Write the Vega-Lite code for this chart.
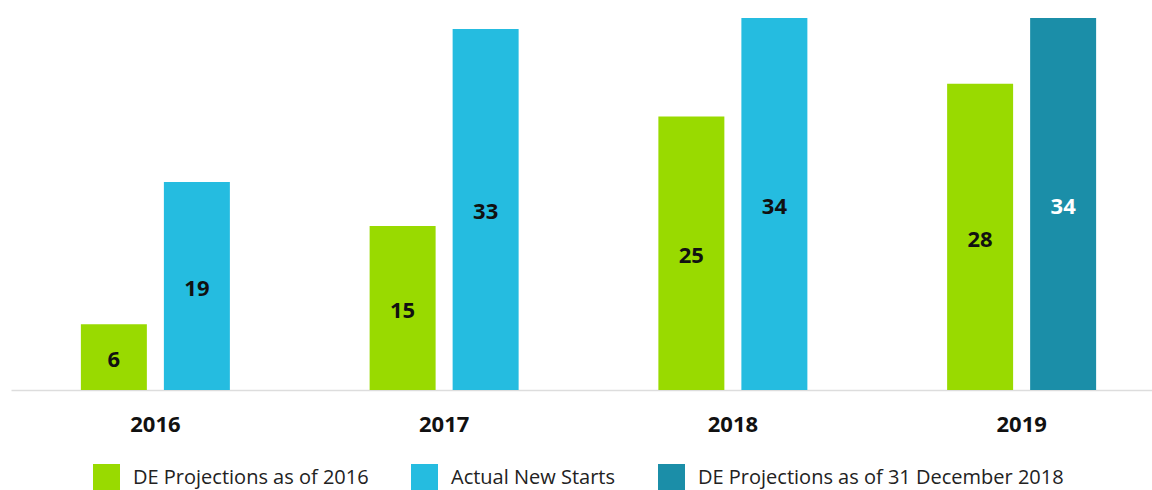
{
  "$schema": "https://vega.github.io/schema/vega-lite/v6.json",
  "width": 1141,
  "height": 372,
  "autosize": {"type": "none"},
  "padding": {"left": 11, "top": 18, "right": 0, "bottom": 100},
  "background": "white",
  "config": {
    "view": {"stroke": null},
    "font": "Open Sans"
  },
  "data": {
    "values": [
      {"year": "2016", "basis": "Original", "series": "DE Projections as of 2016", "value": 6},
      {"year": "2016", "basis": "Updated", "series": "Actual New Starts", "value": 19},
      {"year": "2017", "basis": "Original", "series": "DE Projections as of 2016", "value": 15},
      {"year": "2017", "basis": "Updated", "series": "Actual New Starts", "value": 33},
      {"year": "2018", "basis": "Original", "series": "DE Projections as of 2016", "value": 25},
      {"year": "2018", "basis": "Updated", "series": "Actual New Starts", "value": 34},
      {"year": "2019", "basis": "Original", "series": "DE Projections as of 2016", "value": 28},
      {"year": "2019", "basis": "Updated", "series": "DE Projections as of 31 December 2018", "value": 34}
    ]
  },
  "encoding": {
    "x": {
      "field": "year",
      "type": "nominal",
      "scale": {"range": [0, 1155], "paddingInner": 0.484, "paddingOuter": 0.242},
      "axis": {
        "title": null,
        "labelAngle": 0,
        "labelFont": "Open Sans",
        "labelFontSize": 22,
        "labelFontWeight": "bold",
        "labelColor": "#111111",
        "labelPadding": 24,
        "ticks": false,
        "domainColor": "#dddddd",
        "domainWidth": 1.5
      }
    },
    "xOffset": {
      "field": "basis",
      "type": "nominal",
      "scale": {"paddingInner": 0.205, "paddingOuter": 0}
    }
  },
  "layer": [
    {
      "mark": {"type": "bar"},
      "encoding": {
        "y": {
          "field": "value",
          "type": "quantitative",
          "scale": {"domain": [0, 34], "nice": false},
          "axis": null
        },
        "color": {
          "field": "series",
          "type": "nominal",
          "scale": {
            "domain": ["DE Projections as of 2016", "Actual New Starts", "DE Projections as of 31 December 2018"],
            "range": ["#99da00", "#25bce0", "#1b8ea8"]
          },
          "legend": {
            "title": null,
            "orient": "none",
            "legendX": 82,
            "legendY": 446,
            "direction": "horizontal",
            "symbolType": "square",
            "symbolSize": 729,
            "symbolStrokeWidth": 0,
            "symbolOpacity": 1,
            "labelFont": "Open Sans",
            "labelFontSize": 20,
            "labelColor": "#222222",
            "labelOffset": 13,
            "columnPadding": 42,
            "labelLimit": 500,
            "padding": 0
          }
        }
      }
    },
    {
      "transform": [{"calculate": "datum.value / 2", "as": "mid"}],
      "mark": {"type": "text", "font": "Open Sans", "fontWeight": "bold", "fontSize": 22, "baseline": "middle", "align": "center", "dy": 3},
      "encoding": {
        "y": {"field": "mid", "type": "quantitative"},
        "text": {"field": "value", "type": "quantitative"},
        "color": {
          "condition": {"test": "datum.series === 'DE Projections as of 31 December 2018'", "value": "#ffffff"},
          "value": "#111111"
        }
      }
    }
  ]
}
